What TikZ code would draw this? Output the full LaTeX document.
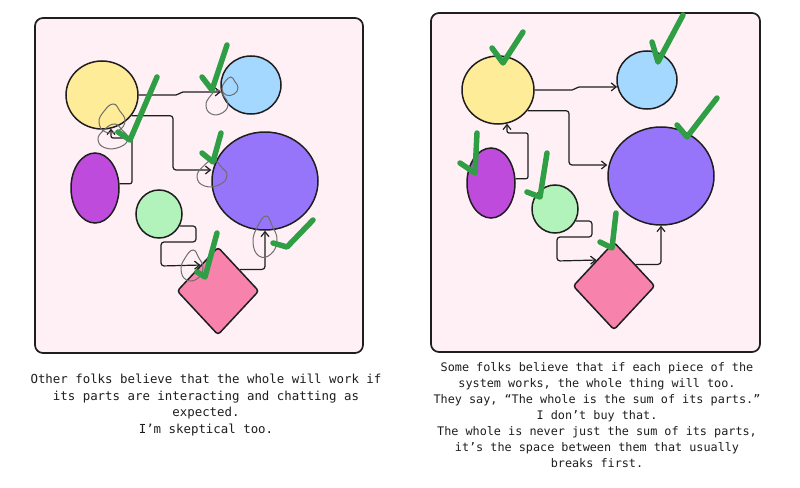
\documentclass[tikz,border=0pt]{standalone}
\usepackage{fontspec}
\newfontfamily\handmono{DejaVu Sans Mono}
\usetikzlibrary{shapes.geometric,arrows.meta}
\definecolor{panelbg}{HTML}{FFF0F6}
\definecolor{cyellow}{HTML}{FFEC99}
\definecolor{cblue}{HTML}{A5D8FF}
\definecolor{cmagenta}{HTML}{BE4BDB}
\definecolor{cviolet}{HTML}{9775FA}
\definecolor{cgreen}{HTML}{B2F2BB}
\definecolor{cpink}{HTML}{F783AC}
\definecolor{ctick}{HTML}{2F9E44}
\definecolor{cscrib}{HTML}{6E6E6E}
\definecolor{ink}{HTML}{1E1E1E}
\tikzset{
  shapeline/.style={draw=ink, line width=1.5pt, inner sep=0pt},
  blob/.style={shapeline, ellipse},
  rhomb/.style={shapeline, diamond, rounded corners=3pt},
  conn/.style={draw=ink, line width=1.2pt, -{Straight Barb[length=5pt,width=8pt]}},
  tickmark/.style={draw=ctick, line width=5.5pt, line cap=round, line join=round},
  panelbox/.style={draw=ink, fill=panelbg, line width=1.7pt, rounded corners=8pt},
  caption/.style={text=ink, align=center, inner sep=0pt},
  scribble/.pic={\draw[cscrib, line width=1pt] plot[smooth cycle, tension=0.8] coordinates {(0.1,-1) (-0.6,-0.5) (-1,0.3) (-0.5,1) (0.5,0.9) (1,0.2) (0.6,-0.5)};}
}
\newcommand\drawpanel[1]{%
  \node[blob, fill=cyellow, minimum width=72pt, minimum height=68pt] (#1Y) at (102,95) {};
  \node[blob, fill=cblue, minimum width=60pt, minimum height=58pt] (#1B) at (251,85) {};
  \node[blob, fill=cmagenta, minimum width=48pt, minimum height=70pt] (#1P) at (95,188) {};
  \node[blob, fill=cviolet, minimum width=106pt, minimum height=98pt] (#1V) at (265,181) {};
  \node[blob, fill=cgreen, minimum width=46pt, minimum height=48pt] (#1G) at (159,214) {};
  \node[rhomb, fill=cpink, minimum width=82pt, minimum height=88pt] (#1D) at (218,291) {};
  \draw[conn, rounded corners=2pt] (#1Y.east) -- (178,95) -- (181,92) -- (#1B.193);
  \draw[conn, rounded corners=3pt] (#1Y.-35) -| (173,170) -- (173,170 -| #1V.west);
  \draw[conn, rounded corners=2pt] (#1P.10) -| (132,138) -| (#1Y.-75);
  \draw[conn, rounded corners=3pt] (#1G.-30) -| (196,242) -| (161,266) -- (#1D.124);
  \draw[conn, rounded corners=3pt] (#1D.45) -| (#1V.south);
}
\begin{document}
\begin{tikzpicture}[x=1pt, y=-1pt]
  \fill[white] (0,0) rectangle (800,487);
  \useasboundingbox (0,0) rectangle (800,487);
  % panels
  \draw[panelbox] (35,18) rectangle (363,353);
  \draw[panelbox] (431,13) rectangle (760,352);
  \begin{scope}
    \drawpanel{L}
  \end{scope}
  \begin{scope}[shift={(396,-5)}]
    \drawpanel{R}
  \end{scope}
  % grey scribbles (left panel)
  \pic[xscale=13, yscale=14] at (112,118) {scribble};
  \pic[xscale=15, yscale=12] at (113,136) {scribble};
  \pic[xscale=11, yscale=12] at (217,102) {scribble};
  \pic[xscale=8, yscale=9] at (230,86) {scribble};
  \pic[xscale=15, yscale=13] at (212,173) {scribble};
  \pic[xscale=11, yscale=15] at (192,265) {scribble};
  \pic[xscale=12, yscale=20] at (265,236) {scribble};
  % green ticks (left)
  \draw[tickmark] (118,132) -- (130,140) -- (157,77);
  \draw[tickmark] (202,77) -- (212,90) -- (227,45);
  \draw[tickmark] (202,153) -- (213,162) -- (221,133);
  \draw[tickmark] (197,272) -- (205,277) -- (217,233);
  \draw[tickmark] (273,243) -- (287,247) -- (313,220);
  % green ticks (right)
  \draw[tickmark] (492,48) -- (503,63) -- (523,32);
  \draw[tickmark] (652,42) -- (658,62) -- (683,15);
  \draw[tickmark] (677,125) -- (687,137) -- (717,98);
  \draw[tickmark] (460,163) -- (475,173) -- (477,133);
  \draw[tickmark] (527,192) -- (540,197) -- (547,153);
  \draw[tickmark] (600,242) -- (612,248) -- (616,213);
  % captions
  \node[caption, font=\handmono\fontsize{12.4}{16.7}\selectfont] (capL) at (206,405)
    {Other folks believe that the whole will work if\\its parts are interacting and chatting as\\expected.\\I’m skeptical too.};
  \node[caption, font=\handmono\fontsize{11.8}{16}\selectfont] (capR) at (597,415)
    {Some folks believe that if each piece of the\\system works, the whole thing will too.\\They say, “The whole is the sum of its parts.”\\I don’t buy that.\\The whole is never just the sum of its parts,\\it’s the space between them that usually\\breaks first.};
\end{tikzpicture}
\end{document}
